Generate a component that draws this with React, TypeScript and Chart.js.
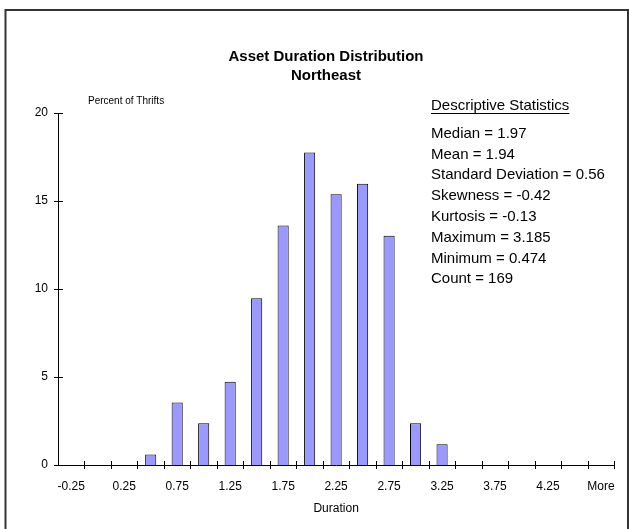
import React, { useEffect, useRef } from "react";
import { Chart, registerables } from "chart.js";

Chart.register(...registerables);

const categories = ["-0.25", "0", "0.25", "0.5", "0.75", "1", "1.25", "1.5", "1.75", "2", "2.25", "2.5", "2.75", "3", "3.25", "3.5", "3.75", "4", "4.25", "4.5", "More"];
const percentOfThrifts = [0, 0, 0, 0.59, 3.55, 2.37, 4.73, 9.47, 13.61, 17.75, 15.38, 15.98, 13.02, 2.37, 1.18, 0, 0, 0, 0, 0, 0];
const yTicks = [0, 5, 10, 15, 20];
const titleLines = ["Asset Duration Distribution", "Northeast"];
const yAxisTitle = "Percent of Thrifts";
const xAxisTitle = "Duration";
const statsHeader = "Descriptive Statistics";
const statsLines = [
  "Median = 1.97",
  "Mean = 1.94",
  "Standard Deviation = 0.56",
  "Skewness = -0.42",
  "Kurtosis = -0.13",
  "Maximum = 3.185",
  "Minimum = 0.474",
  "Count = 169",
];

const FONT = "'Liberation Sans', Arial, sans-serif";

const decorPlugin = {
  id: "decor",
  afterDraw(chart: any) {
    const ctx = chart.ctx;
    const { left, right, bottom } = chart.chartArea;
    const yScale = chart.scales.y;
    ctx.save();
    // outer border
    ctx.strokeStyle = "#333333";
    ctx.lineWidth = 2;
    ctx.strokeRect(5.5, 10, 622.5, 600);

    // tick marks crossing axes
    ctx.strokeStyle = "#000";
    ctx.lineWidth = 1;
    ctx.beginPath();
    for (const v of yTicks) {
      const y = Math.round(yScale.getPixelForValue(v)) + 0.5;
      ctx.moveTo(left - 4, y);
      ctx.lineTo(left + 5, y);
    }
    const n = categories.length;
    for (let i = 1; i <= n; i++) {
      const x = Math.round(left + (i * (right - left)) / n) + 0.5;
      ctx.moveTo(x, bottom - 4);
      ctx.lineTo(x, bottom + 4);
    }
    ctx.stroke();

    ctx.fillStyle = "#000";
    ctx.textBaseline = "alphabetic";
    // title
    ctx.font = `bold 15px ${FONT}`;
    ctx.textAlign = "center";
    ctx.fillText(titleLines[0], 326, 61);
    ctx.fillText(titleLines[1], 326, 80);

    // y axis title
    ctx.font = `10px ${FONT}`;
    ctx.textAlign = "left";
    ctx.fillText(yAxisTitle, 88, 104);

    // x axis title
    ctx.font = `12px ${FONT}`;
    ctx.textAlign = "center";
    ctx.fillText(xAxisTitle, (left + right) / 2, 512);

    // stats
    ctx.font = `15px ${FONT}`;
    ctx.textAlign = "left";
    const sx = 431;
    ctx.fillText(statsHeader, sx, 110);
    const w = ctx.measureText(statsHeader).width;
    ctx.beginPath();
    ctx.moveTo(sx, 113.5);
    ctx.lineTo(sx + w, 113.5);
    ctx.stroke();
    statsLines.forEach((t, i) => {
      ctx.fillText(t, sx, 137.7 + i * 20.8);
    });
    ctx.restore();
  },
};

export default function App() {
  const ref = useRef<HTMLCanvasElement>(null);
  useEffect(() => {
    document.body.style.margin = "0";
    const chart = new Chart(ref.current!, {
      type: "bar",
      data: {
        labels: categories,
        datasets: [
          {
            data: percentOfThrifts,
            backgroundColor: "#9999FF",
            borderColor: "#000000",
            borderWidth: 1,
            categoryPercentage: 1,
            barPercentage: 0.42,
          },
        ],
      },
      options: {
        responsive: false,
        animation: false,
        devicePixelRatio: 1,
        layout: { padding: { left: 0, top: 113, right: 14, bottom: 0 } },
        plugins: { legend: { display: false }, tooltip: { enabled: false }, title: { display: false } },
        scales: {
          x: {
            offset: true,
            grid: { display: false, drawTicks: false },
            border: { display: true, color: "#000", width: 1 },
            ticks: {
              autoSkip: false,
              maxRotation: 0,
              minRotation: 0,
              padding: 14,
              color: "#000",
              font: { family: FONT, size: 12 },
              callback: (_v: any, i: number) => (i % 2 === 0 ? categories[i] : ""),
            },
            afterFit: (s: any) => {
              s.height = 64;
            },
          },
          y: {
            min: 0,
            max: 20,
            grid: { display: false, drawTicks: false },
            border: { display: true, color: "#000", width: 1 },
            ticks: {
              stepSize: 5,
              padding: 10,
              color: "#000",
              font: { family: FONT, size: 12 },
            },
            afterFit: (s: any) => {
              s.width = 58;
            },
          },
        },
      },
      plugins: [decorPlugin],
    });
    return () => chart.destroy();
  }, []);
  return (
    <div style={{ width: 629, height: 529, background: "#fff" }}>
      <canvas ref={ref} width={629} height={529} style={{ display: "block" }} />
    </div>
  );
}
